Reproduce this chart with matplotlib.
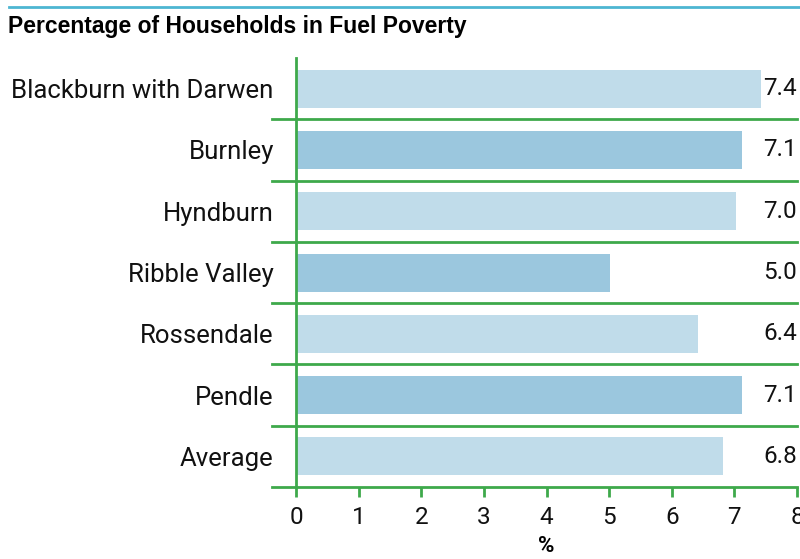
import matplotlib
matplotlib.use("Agg")
import matplotlib.pyplot as plt
from matplotlib.lines import Line2D

# --- data --- #
areas = ["Blackburn with Darwen", "Burnley", "Hyndburn", "Ribble Valley",
         "Rossendale", "Pendle", "Average"]
values = [7.4, 7.1, 7.0, 5.0, 6.4, 7.1, 6.8]
labels = ["7.4", "7.1", "7.0", "5.0", "6.4", "7.1", "6.8"]

light = "#c0dcea"
dark = "#9bc7de"
green = "#3ea94b"
colors = [light, dark, light, dark, light, dark, light]

plt.rcParams["font.family"] = ["Roboto", "DejaVu Sans"]

fig = plt.figure(figsize=(8, 5.59), dpi=100)
ax = fig.add_axes([0.37, 0.1288, 0.62625, 0.7674])

ypos = list(range(len(areas)))
ax.barh(ypos, values, height=0.62, color=colors, left=0.02)
ax.set_xlim(0, 8)
ax.set_ylim(len(areas) - 0.5, -0.5)

for y, lab in zip(ypos, labels):
    ax.text(7.995, y, lab, ha="right", va="center", fontsize=17.5, color="#111111")

ax.set_yticks(ypos)
ax.set_yticklabels(areas, fontsize=18.5, color="#111111", va="center_baseline")
ax.tick_params(axis="y", length=0, pad=16)
ax.set_xticks(range(9))
ax.tick_params(axis="x", direction="out", length=7, width=2, color=green,
               labelsize=17.5, labelcolor="#111111", pad=7)
ax.set_xlabel("%", fontsize=16, fontweight="bold", labelpad=4)

for s in ["top", "right", "bottom"]:
    ax.spines[s].set_visible(False)
ax.spines["left"].set_color(green)
ax.spines["left"].set_linewidth(2)

# separators between rows, extending to the left of the axis
trans = ax.get_yaxis_transform()
for k in range(len(areas)):
    yy = k + 0.5
    ax.add_line(Line2D([-0.047, 1.0], [yy, yy], transform=trans, color=green,
                       lw=2, clip_on=False))

# top rule and title
fig.add_artist(Line2D([9 / 800, 1.0], [1 - 7 / 559, 1 - 7 / 559],
                      transform=fig.transFigure, color="#4db6d2", lw=2))
fig.text(8 / 800, 1 - 26 / 559, "Percentage of Households in Fuel Poverty",
         fontsize=16.5, fontweight="bold", ha="left", va="center",
         family=["Liberation Sans", "DejaVu Sans"])

fig.savefig("out.png", dpi=100)
